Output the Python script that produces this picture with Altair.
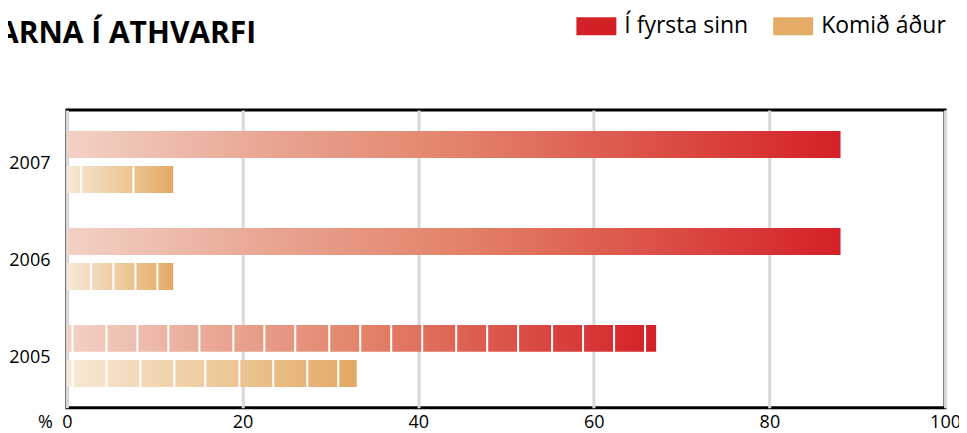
import altair as alt
import pandas as pd

# ---- data ----
years = ["2007", "2006", "2005"]
series_names = ["Í fyrsta sinn", "Komið áður"]
first_time = [88.1, 88.1, 67.1]
came_before = [12.1, 12.1, 33.0]

# segment separators (in %) drawn as thin white gaps
sep_2005_first = [0.63, 4.50, 8.02, 11.55, 15.08, 18.95, 22.48, 26.0, 29.87, 33.40,
                  36.93, 40.46, 44.33, 47.86, 51.38, 55.25, 58.78, 62.31, 65.84]
sep_2005_before = [0.63, 4.50, 8.36, 12.23, 15.76, 19.63, 23.50, 27.37, 30.90]
sep_2006_before = [2.75, 5.29, 7.80, 10.30]
sep_2007_before = [1.62, 7.57]

x_ticks = [0, 20, 40, 60, 80, 100]
title_text = ["ARNA Í ATHVARFI"]
unit_text = ["%"]

legend_colors = ["#d42128", "#e4ac67"]

# ---- tables ----
bars = pd.DataFrame({
    "year": years * 2,
    "series": [series_names[0]] * 3 + [series_names[1]] * 3,
    "value": first_time + came_before,
})

sep_rows = (
    [("2005", series_names[0], p) for p in sep_2005_first]
    + [("2005", series_names[1], p) for p in sep_2005_before]
    + [("2006", series_names[1], p) for p in sep_2006_before]
    + [("2007", series_names[1], p) for p in sep_2007_before]
)
seps = pd.DataFrame(sep_rows, columns=["year", "series", "value"])

FONT = "Open Sans"

y_enc = alt.Y(
    "year:N",
    sort=years,
    scale=alt.Scale(domain=years, paddingInner=0.36, paddingOuter=0.215),
    axis=alt.Axis(title=None, ticks=False, domain=False, labelFontSize=18,
                  labelPadding=17, labelFont=FONT, labelColor="black",
                  labelOffset=2),
)
yoff_enc = alt.YOffset(
    "series:N",
    scale=alt.Scale(domain=series_names, paddingInner=0.232, paddingOuter=0),
)
x_scale = alt.Scale(domain=[0, 100], nice=False, zero=True)
x_axis = alt.Axis(values=x_ticks, title=None, ticks=False, domain=False, grid=True,
                  gridColor="#d9d9d9", gridWidth=3, labelFontSize=18, labelPadding=6,
                  labelColor="black", labelFont=FONT, labelFlush=False)

red_grad = alt.Gradient(
    gradient="linear", x1=0, x2=1, y1=0, y2=0,
    stops=[alt.GradientStop(color="#f2d2c6", offset=0),
           alt.GradientStop(color="#e9a794", offset=0.25),
           alt.GradientStop(color="#e3846b", offset=0.5),
           alt.GradientStop(color="#d42027", offset=1)],
)
orange_grad = alt.Gradient(
    gradient="linear", x1=0, x2=1, y1=0, y2=0,
    stops=[alt.GradientStop(color="#f7e8d6", offset=0),
           alt.GradientStop(color="#eecb9d", offset=0.5),
           alt.GradientStop(color="#e3a964", offset=1)],
)

red_bars = alt.Chart(bars).transform_filter(
    alt.datum.series == series_names[0]
).mark_bar(fill=red_grad, strokeWidth=0).encode(
    x=alt.X("value:Q", scale=x_scale, axis=x_axis),
    y=y_enc,
    yOffset=yoff_enc,
)

orange_bars = alt.Chart(bars).transform_filter(
    alt.datum.series == series_names[1]
).mark_bar(fill=orange_grad, strokeWidth=0).encode(
    x=alt.X("value:Q", scale=x_scale, axis=x_axis),
    y=y_enc,
    yOffset=yoff_enc,
)

sep_marks = alt.Chart(seps).transform_calculate(
    a="datum.value - 0.115", b="datum.value + 0.115"
).mark_rect(fill="white", strokeWidth=0).encode(
    x=alt.X("a:Q", scale=x_scale, axis=x_axis),
    x2="b:Q",
    y=y_enc,
    yOffset=yoff_enc,
)

legend_layer = alt.Chart(pd.DataFrame({"series": series_names})).mark_square(
    opacity=0
).encode(
    color=alt.Color(
        "series:N",
        scale=alt.Scale(domain=series_names, range=legend_colors),
        legend=alt.Legend(
            orient="none", legendX=510, legendY=-104, direction="horizontal",
            title=None, symbolType="M-1,-0.45L1,-0.45L1,0.45L-1,0.45Z",
            symbolSize=1600, symbolStrokeWidth=0, symbolOpacity=1,
            labelFont=FONT, labelFontSize=23, labelColor="black",
            labelOffset=8, columnPadding=25, padding=0,
        ),
    )
)

title_layer = alt.Chart(pd.DataFrame({"t": title_text})).mark_text(
    align="left", baseline="alphabetic", font=FONT, fontWeight="bold",
    fontSize=30, color="black"
).encode(text="t:N", x=alt.value(-69), y=alt.value(-67))

unit_layer = alt.Chart(pd.DataFrame({"t": unit_text})).mark_text(
    align="right", baseline="top", font=FONT, fontSize=18, color="black"
).encode(text="t:N", x=alt.value(-14), y=alt.value(304))

chart = alt.layer(
    red_bars, orange_bars, sep_marks, legend_layer, title_layer, unit_layer
).properties(
    width=879, height=298,
    autosize=alt.AutoSizeParams(type="none"),
    padding={"left": 59, "top": 102, "right": 14, "bottom": 23},
).configure_view(
    stroke="black", strokeWidth=3
)

chart.save("out.html", embed_options={"renderer": "svg", "actions": False})
